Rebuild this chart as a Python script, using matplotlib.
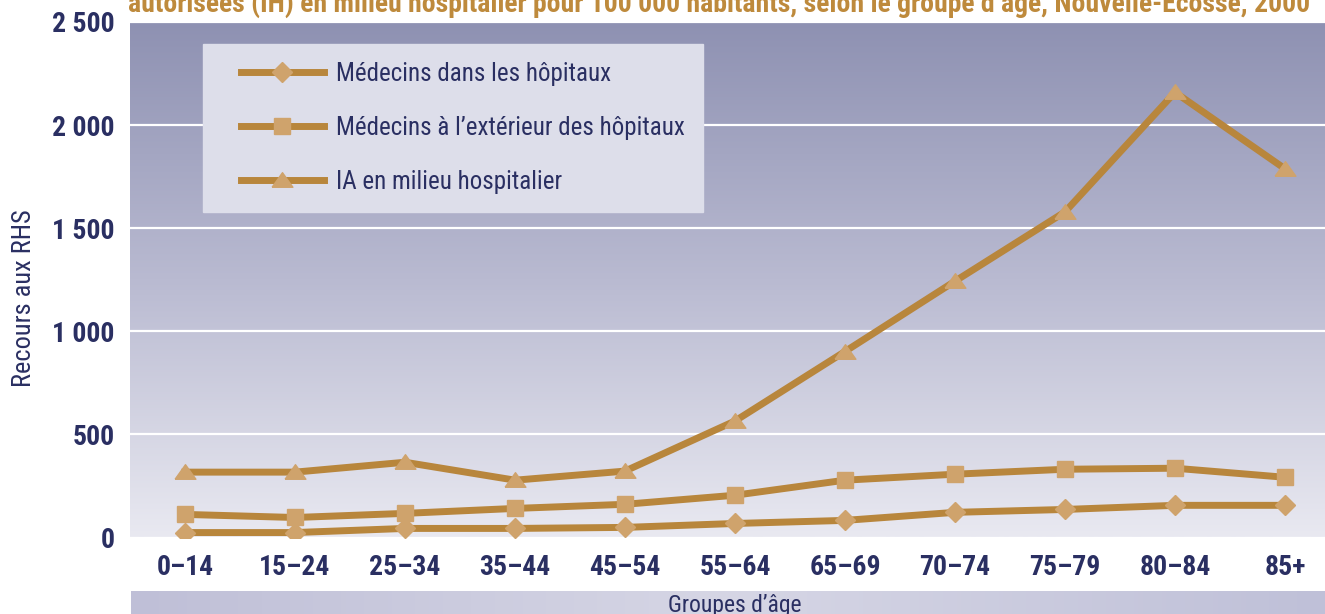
import matplotlib
matplotlib.use("Agg")
import matplotlib.pyplot as plt
import numpy as np
from matplotlib.colors import LinearSegmentedColormap
from matplotlib.path import Path
from matplotlib.legend_handler import HandlerLine2D

plt.rcParams['font.family'] = ['Roboto Condensed', 'Liberation Sans Narrow', 'Roboto', 'DejaVu Sans']

# data
groupes = ['0–14', '15–24', '25–34', '35–44', '45–54', '55–64',
           '65–69', '70–74', '75–79', '80–84', '85+']
med_hop = [24, 24, 44, 44, 49, 68, 83, 122, 136, 156, 156]
med_ext = [112, 97, 117, 141, 161, 205, 278, 307, 331, 336, 292]
ia_hop = [317, 317, 365, 278, 322, 565, 902, 1243, 1579, 2159, 1788]
yticks = [0, 500, 1000, 1500, 2000, 2500]
ytick_labels = ['0', '500', '1 000', '1 500', '2 000', '2 500']

titre = ("autorisées (IH) en milieu hospitalier pour 100 000 habitants, "
         "selon le groupe d’âge, Nouvelle-Écosse, 2000")

navy = '#2a2f62'
line_c = '#b8863c'
mark_c = '#cfa36c'

W, H = 1325, 614
fig = plt.figure(figsize=(W / 100, H / 100), dpi=100)

# main axes (extends past right edge, like the cropped original)
left, right, top, bottom = 130, 1340, 22, 537.5
ax = fig.add_axes([left / W, (H - bottom) / H, (right - left) / W, (bottom - top) / H])

# vertical gradient background
cmap_bg = LinearSegmentedColormap.from_list('bg', ['#e9e9f1', '#b9bad1', '#8e91b2'])
grad = np.linspace(0, 1, 256).reshape(-1, 1)
ax.imshow(grad, extent=[0, 1, 0, 1], transform=ax.transAxes, origin='lower',
          cmap=cmap_bg, aspect='auto', zorder=0)

x = np.arange(len(groupes))
tri = Path([(-1, -0.65), (1, -0.65), (0, 0.75), (-1, -0.65)])

ax.plot(x, med_hop, color=line_c, lw=5, marker='D', ms=10,
        mfc=mark_c, mec=mark_c, label='Médecins dans les hôpitaux', zorder=3)
ax.plot(x, med_ext, color=line_c, lw=5, marker='s', ms=11,
        mfc=mark_c, mec=mark_c, label='Médecins à l’extérieur des hôpitaux', zorder=3)
ax.plot(x, ia_hop, color=line_c, lw=5, marker=tri, ms=15,
        mfc=mark_c, mec=mark_c, label='IA en milieu hospitalier', zorder=3)

ax.set_xlim(-0.5, len(groupes) - 0.5)
ax.set_ylim(0, 2500)
ax.set_yticks(yticks)
ax.set_yticklabels(ytick_labels)
ax.set_xticks(x)
ax.set_xticklabels(groupes)
for t in ax.get_xticklabels() + ax.get_yticklabels():
    t.set_fontweight('bold')
    t.set_fontsize(20)
    t.set_color(navy)
ax.tick_params(axis='both', length=0)
ax.tick_params(axis='x', pad=12)
ax.tick_params(axis='y', pad=11)
ax.grid(axis='y', color='white', lw=1.6, zorder=1)
ax.set_axisbelow(True)
for s in ax.spines.values():
    s.set_visible(False)

ax.set_ylabel('Recours aux RHS', fontsize=19, color=navy)
ax.yaxis.set_label_coords(-0.078, 0.465)

fs_leg = 18
leg = ax.legend(loc='upper left', bbox_to_anchor=((203 - left) / (right - left),
                (bottom - 44) / (bottom - top)), borderaxespad=0,
                frameon=True, fancybox=False, facecolor='#dddeea', edgecolor='#dddeea',
                framealpha=1, fontsize=fs_leg, handlelength=4.1, handletextpad=0.5,
                labelspacing=1.2, borderpad=0.72,
                handler_map={plt.Line2D: HandlerLine2D(xpad=0.8)})
for t in leg.get_texts():
    t.set_color(navy)

# bottom band with horizontal gradient
bax = fig.add_axes([131 / W, 0, (W - 131) / W, 23 / H])
cmap_band = LinearSegmentedColormap.from_list('band', ['#bfbfd7', '#d6d6e5', '#bfc0d8'])
bax.imshow(np.linspace(0, 1, 256).reshape(1, -1), extent=[0, 1, 0, 1],
           cmap=cmap_band, aspect='auto')
bax.set_axis_off()
fig.text(735 / W, (H - 594) / H, 'Groupes d’âge', fontsize=17, color=navy,
         ha='center', va='top')

# title, cut at the top as in the original
fig.text(128 / W, (H - 12) / H, titre, fontsize=20, fontweight='bold',
         color='#be8a3c', ha='left', va='baseline')

fig.savefig('out.png', dpi=100)
